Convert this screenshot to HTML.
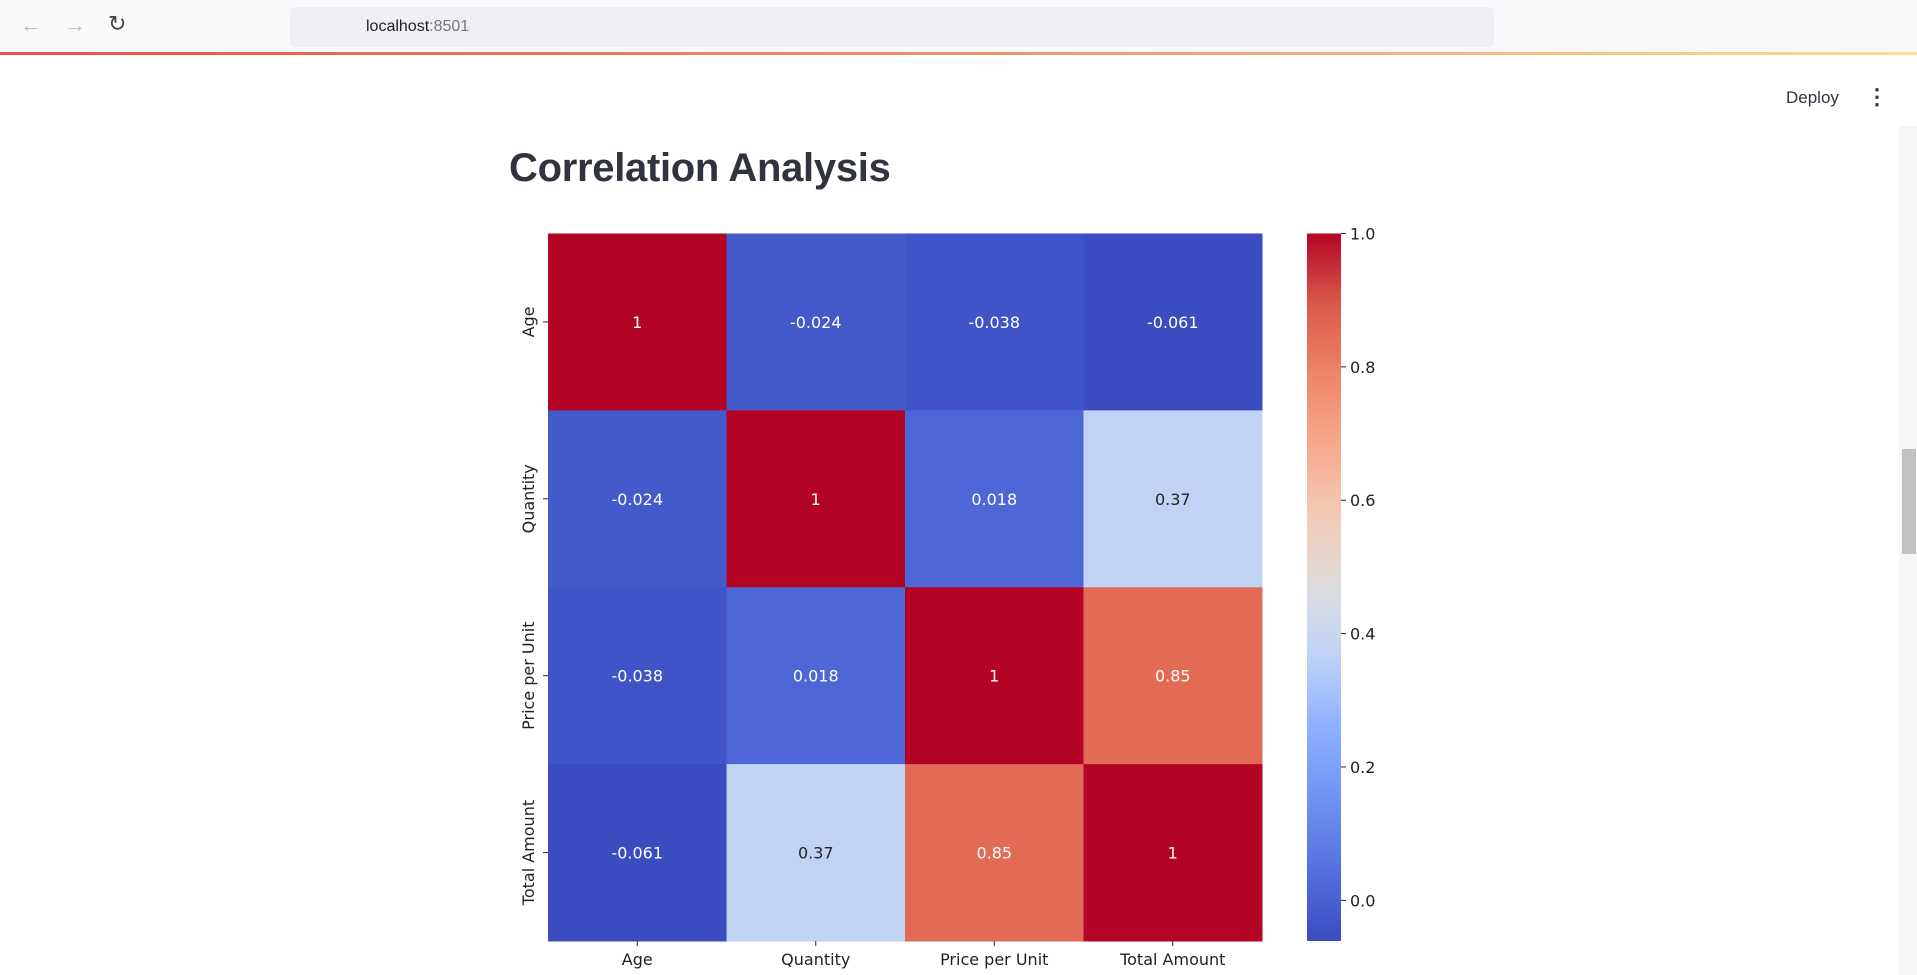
<!DOCTYPE html>
<html><head><meta charset="utf-8">
<style>
body{margin:0;width:1917px;height:975px;overflow:hidden;background:#fff;font-family:"Liberation Sans",sans-serif;position:relative}
.abs{position:absolute}
</style></head>
<body>
<div class="abs" style="left:0;top:0;width:1917px;height:53px;background:#f9f9fb"></div>
<div class="abs" style="left:0;top:52px;width:1917px;height:3px;background:linear-gradient(90deg,#e8504a,#f0a070 60%,#f8e090)"></div>
<div class="abs" style="left:20px;top:12px;color:#bbb;font-size:22px">←</div>
<div class="abs" style="left:64px;top:12px;color:#bbb;font-size:22px">→</div>
<div class="abs" style="left:108px;top:11px;color:#444;font-size:22px">↻</div>
<div class="abs" style="left:290px;top:7px;width:1204px;height:40px;background:#f0f0f4;border-radius:5px">
<span style="position:absolute;left:76px;top:11px;font-size:16px;color:#222">localhost<span style="color:#777">:8501</span></span>
</div>
<div class="abs" style="left:1786px;top:88px;font-size:17px;color:#31333f">Deploy</div>
<div class="abs" style="left:1866px;top:84px;font-size:22px;color:#31333f;font-weight:bold">⋮</div>
<div class="abs" style="left:1899px;top:126px;width:18px;height:849px;background:#f6f6f6"></div>
<div class="abs" style="left:1902px;top:449px;width:14px;height:105px;background:#c1c1c1"></div>
<div class="abs" style="left:509px;top:146px;font-size:40px;font-weight:bold;color:#31333f;letter-spacing:-0.3px">Correlation Analysis</div>
<svg class="abs" style="left:0;top:0" width="1917" height="975" id="chart"></svg>
<script>
const labels=["Age","Quantity","Price per Unit","Total Amount"];
const row0=[1,-0.024,-0.038,-0.061];
const row1=[-0.024,1,0.018,0.37];
const row2=[-0.038,0.018,1,0.85];
const row3=[-0.061,0.37,0.85,1];
const matrix=[row0,row1,row2,row3];
const cbTicks=[0,0.2,0.4,0.6,0.8,1.0];
const vmin=-0.061,vmax=1;
const stops=[[0,59,76,192],[0.1,84,112,222],[0.2,111,146,243],[0.3,141,176,254],[0.4,190,210,246],[0.45,205,217,236],[0.5,221,220,220],[0.6,242,203,183],[0.7,246,170,141],[0.8,238,132,104],[0.9,218,90,74],[1,180,4,38]];
function cmap(t){t=Math.max(0,Math.min(1,t));for(let i=1;i<stops.length;i++){if(t<=stops[i][0]){const a=stops[i-1],b=stops[i],f=(t-a[0])/(b[0]-a[0]);return `rgb(${Math.round(a[1]+f*(b[1]-a[1]))},${Math.round(a[2]+f*(b[2]-a[2]))},${Math.round(a[3]+f*(b[3]-a[3]))})`;}}return "rgb(180,4,38)";}
const NS="http://www.w3.org/2000/svg",svg=document.getElementById('chart');
const X0=548,X1=1262,Y0=233.5,Y1=941;
const cw=(X1-X0)/labels.length,ch=(Y1-Y0)/labels.length;
function xPos(i){return X0+i*cw;}
function yPos(i){return Y0+i*ch;}
function mk(tag,attrs,txt){const e=document.createElementNS(NS,tag);for(const k in attrs)e.setAttribute(k,attrs[k]);if(txt!==undefined)e.textContent=txt;svg.appendChild(e);return e;}
matrix.forEach((row,r)=>row.forEach((v,c)=>{
 const t=(v-vmin)/(vmax-vmin);
 const rect=mk('rect',{x:xPos(c),y:yPos(r),width:cw+0.5,height:ch+0.5,fill:cmap(t)});
 
 
 const tx=mk('text',{x:xPos(c)+cw/2,y:yPos(r)+ch/2+6,'text-anchor':'middle','font-size':16,fill:(t>0.3&&t<0.7)?'#222':'#fff','font-family':'DejaVu Sans, sans-serif'},String(v));
 
 
}));
labels.forEach((l,i)=>{
 mk('line',{x1:xPos(i)+cw/2,x2:xPos(i)+cw/2,y1:Y1,y2:Y1+5,stroke:'#222','stroke-width':1});
 const xt=mk('text',{x:xPos(i)+cw/2,y:Y1+24,'text-anchor':'middle','font-size':16,fill:'#222','font-family':'DejaVu Sans, sans-serif'},l);
 
 
 const cy=yPos(i)+ch/2;
 mk('line',{x1:X0-5,x2:X0,y1:cy,y2:cy,stroke:'#222','stroke-width':1});
 const yt=mk('text',{x:0,y:0,'text-anchor':'middle','font-size':16,fill:'#222','font-family':'DejaVu Sans, sans-serif',transform:`translate(534,${cy}) rotate(-90)`},l);
 
 
});
const CX=1307,CW=34;
function cbY(v){return Y1-(v-vmin)/(vmax-vmin)*(Y1-Y0);}
const defs=mk('defs',{});
const g=document.createElementNS(NS,'linearGradient');g.setAttribute('id','cg');g.setAttribute('x1','0');g.setAttribute('x2','0');g.setAttribute('y1','1');g.setAttribute('y2','0');defs.appendChild(g);
stops.forEach(s=>{const st=document.createElementNS(NS,'stop');st.setAttribute('offset',s[0]);st.setAttribute('stop-color',`rgb(${s[1]},${s[2]},${s[3]})`);g.appendChild(st);});
const cb=mk('rect',{x:CX,y:Y0,width:CW,height:Y1-Y0,fill:'url(#cg)'});


cbTicks.forEach(v=>{
 const y=cbY(v);
 mk('line',{x1:CX+CW,x2:CX+CW+5,y1:y,y2:y,stroke:'#222','stroke-width':1});
 const t=mk('text',{x:CX+CW+9,y:y+6,'font-size':16,fill:'#222','font-family':'DejaVu Sans, sans-serif'},v.toFixed(1));
 
 
});
</script>
</body></html>
